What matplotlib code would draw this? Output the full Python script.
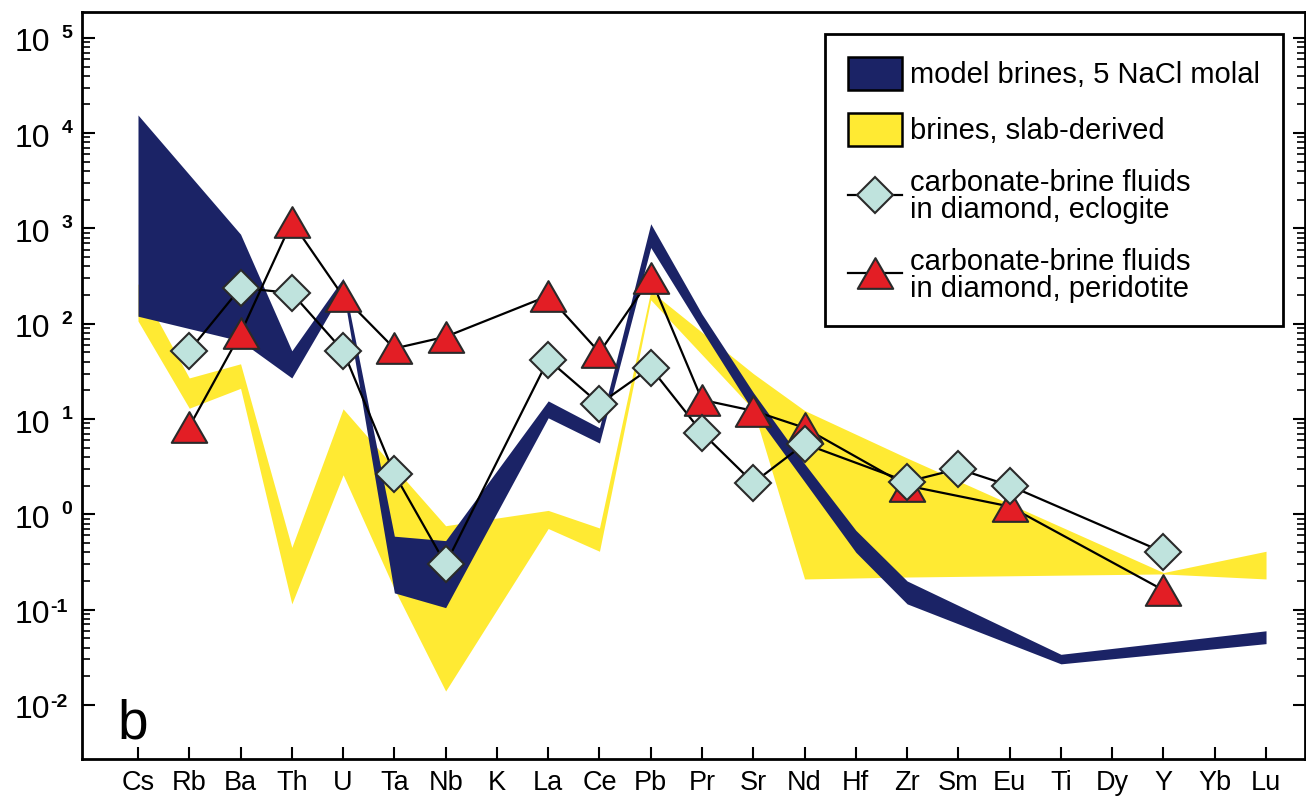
import numpy as np
import matplotlib
matplotlib.use('Agg')
import matplotlib.pyplot as plt
from matplotlib.ticker import FixedLocator, NullFormatter
from matplotlib.lines import Line2D
from matplotlib.patches import Patch
from matplotlib.path import Path

plt.rcParams['font.family'] = ['Liberation Sans', 'DejaVu Sans']

# ---------------- data ----------------
elements = ['Cs', 'Rb', 'Ba', 'Th', 'U', 'Ta', 'Nb', 'K', 'La', 'Ce', 'Pb', 'Pr',
            'Sr', 'Nd', 'Hf', 'Zr', 'Sm', 'Eu', 'Ti', 'Dy', 'Y', 'Yb', 'Lu']

# model brines, 5 NaCl molal (band)
model_el = ['Cs', 'Ba', 'Th', 'U', 'Ta', 'Nb', 'La', 'Ce', 'Pb', 'Pr', 'Sr', 'Nd',
            'Hf', 'Zr', 'Ti', 'Lu']
model_hi = [15500, 870, 52, 300, 0.59, 0.53, 15.5, 8.1, 1120, 126, 19, 3.4,
            0.68, 0.20, 0.034, 0.060]
model_lo = [120, 66, 27, 225, 0.15, 0.105, 10.3, 5.6, 630, 85, 12.0, 2.2,
            0.40, 0.115, 0.027, 0.044]

# brines, slab-derived (band)
slab_el = ['Cs', 'Rb', 'Ba', 'Th', 'U', 'Ta', 'Nb', 'La', 'Ce', 'Pb', 'Sr', 'Nd',
           'Zr', 'Y', 'Lu']
slab_hi = [263, 27, 38, 0.45, 12.8, 3.1, 0.76, 1.1, 0.72, 220, 30, 12.3,
           3.9, 0.245, 0.41]
slab_lo = [107, 13, 21, 0.115, 2.6, 0.165, 0.014, 0.71, 0.41, 178, 12.6, 0.21,
           0.22, 0.237, 0.21]

# carbonate-brine fluids in diamond, eclogite
ecl_el = ['Rb', 'Ba', 'Th', 'U', 'Ta', 'Nb', 'La', 'Ce', 'Pb', 'Pr', 'Sr', 'Nd',
          'Zr', 'Sm', 'Eu', 'Y']
ecl_val = [52, 238, 210, 52, 2.66, 0.30, 42, 14.4, 34.5, 7.2, 2.14, 5.5,
           2.2, 3.0, 2.0, 0.40]

# carbonate-brine fluids in diamond, peridotite
per_el = ['Rb', 'Ba', 'Th', 'U', 'Ta', 'Nb', 'La', 'Ce', 'Pb', 'Pr', 'Sr', 'Nd',
          'Zr', 'Eu', 'Y']
per_val = [8.3, 79, 1170, 194, 55, 73, 196, 50, 300, 15.9, 12.2, 8.1,
           2.0, 1.21, 0.16]

navy = '#1b2366'
yellow = '#ffea33'
aqua = '#bfe3dd'
red = '#e31e25'
edge = '#2a2a2a'

pos = {e: i for i, e in enumerate(elements)}


def xs(names):
    return [pos[n] for n in names]


# equilateral-ish triangle marker
tri = Path([(-1, -0.866), (1, -0.866), (0, 0.866), (-1, -0.866)], closed=True)
dia_ms = 18.5
tri_ms = 25.5

# ---------------- figure ----------------
fig = plt.figure(figsize=(13.06, 8.02), dpi=100)
ax = fig.add_axes([82 / 1306, 1 - 759 / 802, (1305 - 82) / 1306, (759 - 12) / 802])

ax.fill_between(xs(slab_el), slab_lo, slab_hi, color=yellow, lw=0, zorder=1)
ax.fill_between(xs(model_el), model_lo, model_hi, color=navy, lw=0, zorder=2)

ax.plot(xs(per_el), per_val, color='black', lw=1.6, zorder=3)
ax.plot(xs(ecl_el), ecl_val, color='black', lw=1.6, zorder=3)
ax.plot(xs(per_el), per_val, ls='none', marker=tri, ms=tri_ms, mfc=red, mec=edge,
        mew=1.5, zorder=4)
ax.plot(xs(ecl_el), ecl_val, ls='none', marker='D', ms=dia_ms, mfc=aqua, mec=edge,
        mew=1.5, zorder=5)

ax.set_yscale('log')
ax.set_ylim(10 ** -2.567, 10 ** 5.271)
ax.set_xlim(-1.092, 22.76)

# ticks
ax.set_xticks(range(len(elements)))
ax.set_xticklabels(elements)
majors = [10.0 ** k for k in range(-2, 6)]
minors = [m * 10.0 ** k for k in range(-2, 5) for m in range(2, 10)]
ax.yaxis.set_major_locator(FixedLocator(majors))
ax.yaxis.set_minor_locator(FixedLocator(minors))
ax.yaxis.set_major_formatter(NullFormatter())
ax.yaxis.set_minor_formatter(NullFormatter())

ax.tick_params(axis='x', which='major', direction='in', length=9, width=1.5,
               pad=8, labelsize=19.5, top=False)
ax.tick_params(axis='y', which='major', direction='in', length=9, width=1.5,
               left=True, right=True)
ax.tick_params(axis='y', which='minor', direction='in', length=5.5, width=1.2,
               left=True, right=True)
for s in ax.spines.values():
    s.set_linewidth(2)

# y labels: "10" with a small bold exponent
for k in range(-2, 6):
    v = 10.0 ** k
    ax.annotate('10', xy=(0, v), xycoords=('axes fraction', 'data'),
                xytext=(-23, -9.7), textcoords='offset points',
                ha='right', va='baseline', fontsize=23)
    if k >= 0:
        ax.annotate(str(k), xy=(0, v), xycoords=('axes fraction', 'data'),
                    xytext=(-14.8, 0), textcoords='offset points',
                    ha='left', va='baseline', fontsize=14, fontweight='bold')
    else:
        ax.annotate('-' + str(-k), xy=(0, v), xycoords=('axes fraction', 'data'),
                    xytext=(-23, -1.5), textcoords='offset points',
                    ha='left', va='baseline', fontsize=14, fontweight='bold')

ax.text(0.0286, 0.028, 'b', transform=ax.transAxes, fontsize=39.5,
        ha='left', va='baseline')

# legend
handles = [
    Patch(facecolor=navy, edgecolor='black', linewidth=1.8),
    Patch(facecolor=yellow, edgecolor='black', linewidth=1.8),
    Line2D([], [], color='black', lw=1.6, marker='D', ms=dia_ms, mfc=aqua,
           mec=edge, mew=1.5),
    Line2D([], [], color='black', lw=1.6, marker=tri, ms=tri_ms, mfc=red,
           mec=edge, mew=1.5),
]
labels = ['model brines, 5 NaCl molal', 'brines, slab-derived',
          'carbonate-brine fluids\nin diamond, eclogite',
          'carbonate-brine fluids\nin diamond, peridotite']
leg = ax.legend(handles, labels, loc='upper right', bbox_to_anchor=(0.982, 0.9706),
                borderaxespad=0, fontsize=21, handlelength=1.86, handleheight=1.35,
                handletextpad=0.25, borderpad=0.8, labelspacing=0.8,
                fancybox=False, framealpha=1, edgecolor='black')
leg.get_frame().set_linewidth(2)
for t in leg.get_texts():
    t.set_linespacing(0.95)

fig.savefig('out.png', dpi=100)
